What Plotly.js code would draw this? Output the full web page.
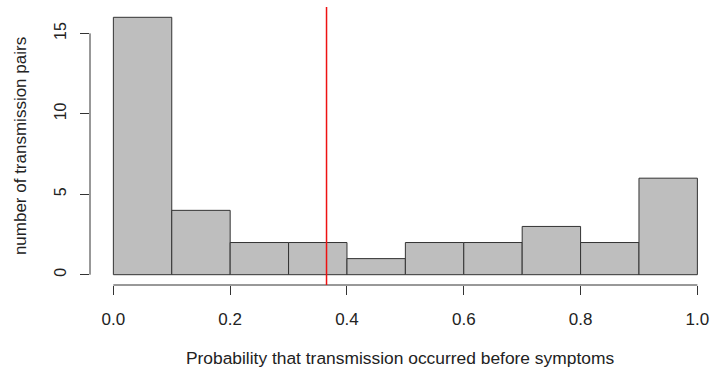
<!DOCTYPE html>
<html>
<head>
<meta charset="utf-8">
<script src="https://cdn.plot.ly/plotly-3.0.1.min.js"></script>
<style>html,body{margin:0;padding:0;background:#fff;}#chart{width:710px;height:369px;}</style>
</head>
<body>
<div id="chart"></div>
<script>
// Histogram bins (left edges), bin width and counts
const binStarts = [0.0, 0.1, 0.2, 0.3, 0.4, 0.5, 0.6, 0.7, 0.8, 0.9];
const binWidth = 0.1;
const counts = [16, 4, 2, 2, 1, 2, 2, 3, 2, 6];
// Vertical reference line value
const refLine = 0.365;
// Tick labels
const xTicks = [0, 0.2, 0.4, 0.6, 0.8, 1.0];
const xTickText = ["0.0", "0.2", "0.4", "0.6", "0.8", "1.0"];
const yTicks = [0, 5, 10, 15];
const yTickText = ["0", "5", "10", "15"];

const fam = "Liberation Sans, Arial, Helvetica, sans-serif";
const font = {family: fam, size: 16, color: "#222"};

const trace = {
  type: "bar",
  x: binStarts,
  y: counts,
  width: binStarts.map(() => binWidth),
  offset: 0,
  marker: {color: "#bebebe", line: {color: "#333", width: 1}},
  hoverinfo: "x+y"
};

const layout = {
  width: 710, height: 369,
  margin: {l: 90, r: 0, t: 7, b: 84},
  paper_bgcolor: "#fff", plot_bgcolor: "#fff",
  font: font,
  showlegend: false,
  bargap: 0,
  xaxis: {
    range: [-0.04, 1.0216], tickvals: xTicks, ticktext: xTickText,
    ticks: "outside", ticklen: 9, tickcolor: "#333", tickwidth: 1,
    tickfont: {family: fam, size: 17, color: "#222"},
    showgrid: false, zeroline: false, showline: false,
    ticklabelstandoff: 10,
    automargin: false,
    title: {text: "Probability that transmission occurred before symptoms", font: {family: fam, size: 17.4, color: "#222"}, standoff: 23}
  },
  yaxis: {
    range: [-0.64, 16.64], tickvals: yTicks, ticktext: yTickText,
    ticks: "outside", ticklen: 9, tickcolor: "#333", tickwidth: 1,
    tickangle: -90,
    showgrid: false, zeroline: false, showline: false,
    ticklabelstandoff: 8,
    automargin: false,
    title: {text: "number of transmission pairs", font: {family: fam, size: 17, color: "#222"}, standoff: 20}
  },
  shapes: [
    {type: "line", xref: "x", yref: "paper", x0: xTicks[0], x1: xTicks[xTicks.length-1], y0: 0, y1: 0, line: {color: "#333", width: 1}},
    {type: "line", xref: "paper", yref: "y", x0: 0, x1: 0, y0: yTicks[0], y1: yTicks[yTicks.length-1], line: {color: "#333", width: 1}},
    {type: "line", xref: "x", yref: "paper", x0: refLine, x1: refLine, y0: 0, y1: 1, line: {color: "#ee1111", width: 1.5}}
  ]
};

Plotly.newPlot("chart", [trace], layout, {staticPlot: true, displayModeBar: false});
</script>
</body>
</html>
